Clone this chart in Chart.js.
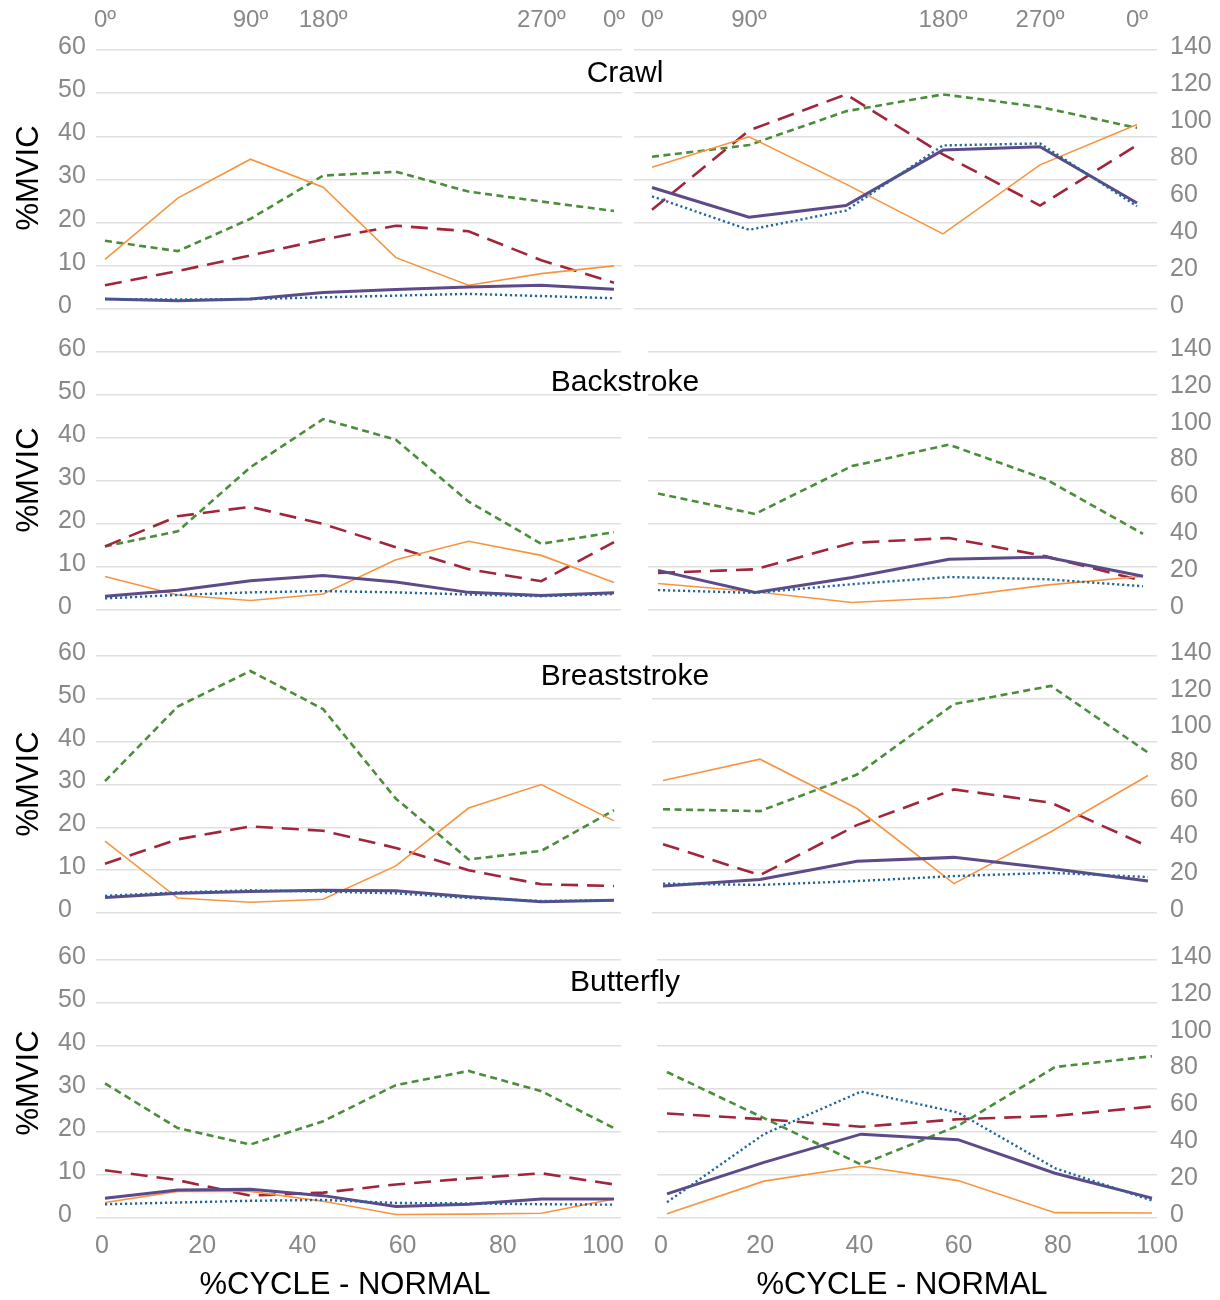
<!DOCTYPE html>
<html>
<head>
<meta charset="utf-8">
<script src="https://cdn.jsdelivr.net/npm/chart.js@4.4.1/dist/chart.umd.min.js"></script>
<style>
html,body{margin:0;padding:0;background:#fff;}
body{width:1220px;height:1300px;position:relative;overflow:hidden;font-family:'Liberation Sans',Arial,sans-serif;}
canvas{position:absolute;}
.t{position:absolute;color:#000;white-space:nowrap;line-height:1;transform:translate(-50%,-50%);}
.title{font-size:30px;}
.ylab{font-size:31px;transform:translate(-50%,-50%) rotate(-90deg);}
.xlab{font-size:31px;}
</style>
</head>
<body>
<script>
// ---------------- DATA ----------------
const strokes = ['Crawl', 'Backstroke', 'Breaststroke', 'Butterfly'];
const degLeft = ['0º', '', '90º', '180º', '', '', '270º', '0º'];
const degRight = ['0º', '90º', '', '180º', '270º', '0º'];
const yAxisTitle = '%MVIC';
const xAxisTitle = '%CYCLE - NORMAL';

// Crawl
const crawlLeftGreen  = [15.8, 13.4, 20.9, 30.9, 31.8, 27.2, 24.9, 22.7];
const crawlLeftRed    = [5.5, 8.8, 12.4, 16.1, 19.3, 18.0, 11.3, 6.1];
const crawlLeftOrange = [11.5, 25.7, 34.7, 28.2, 11.9, 5.5, 8.2, 10.0];
const crawlLeftPurple = [2.3, 1.9, 2.3, 3.8, 4.5, 5.1, 5.5, 4.6];
const crawlLeftBlue   = [2.3, 2.2, 2.3, 2.7, 3.1, 3.5, 3.0, 2.5];
const crawlRightGreen  = [82.3, 88.6, 106.9, 116.0, 109.2, 97.9];
const crawlRightRed    = [53.7, 96.5, 116.0, 83.6, 55.9, 88.6];
const crawlRightOrange = [76.6, 93.1, 67.5, 40.6, 77.9, 99.7];
const crawlRightPurple = [65.7, 49.6, 55.9, 85.9, 87.7, 57.3];
const crawlRightBlue   = [60.9, 42.8, 53.2, 88.4, 89.5, 55.5];

// Backstroke
const backLeftGreen  = [14.8, 18.3, 33.2, 44.4, 39.6, 25.2, 15.4, 18.1];
const backLeftRed    = [14.8, 21.8, 24.0, 20.0, 14.6, 9.5, 6.7, 15.8];
const backLeftOrange = [7.8, 3.5, 2.2, 3.7, 11.7, 16.0, 12.7, 6.4];
const backLeftPurple = [3.2, 4.6, 6.8, 8.0, 6.5, 4.1, 3.4, 4.0];
const backLeftBlue   = [2.7, 3.5, 4.1, 4.4, 4.1, 3.6, 3.2, 3.7];
const backRightGreen  = [63.2, 52.1, 78.1, 89.7, 70.9, 41.3];
const backRightRed    = [20.1, 22.1, 36.4, 39.1, 29.1, 15.8];
const backRightOrange = [14.4, 9.9, 4.1, 6.8, 13.5, 18.3];
const backRightPurple = [21.5, 9.5, 17.6, 27.5, 28.7, 18.3];
const backRightBlue   = [10.8, 9.3, 14.0, 17.9, 16.7, 12.9];

// Breaststroke
const breastLeftGreen  = [30.8, 48.2, 56.5, 47.6, 26.7, 12.5, 14.5, 24.0];
const breastLeftRed    = [11.5, 17.2, 20.2, 19.2, 15.2, 10.0, 6.7, 6.3];
const breastLeftOrange = [16.8, 3.5, 2.5, 3.2, 11.0, 24.5, 30.0, 21.5];
const breastLeftPurple = [3.6, 4.6, 5.0, 5.3, 5.2, 3.8, 2.6, 3.0];
const breastLeftBlue   = [4.0, 4.8, 5.3, 5.0, 4.6, 3.5, 2.8, 3.0];
const breastRightGreen  = [56.5, 55.5, 75.4, 113.8, 123.7, 87.4];
const breastRightRed    = [37.5, 20.6, 47.9, 67.3, 60.1, 36.3];
const breastRightOrange = [72.2, 83.8, 56.9, 16.0, 44.3, 74.9];
const breastRightPurple = [14.7, 18.3, 28.2, 30.3, 24.2, 17.4];
const breastRightBlue   = [16.0, 15.3, 17.4, 20.1, 21.9, 19.6];

// Butterfly
const butterLeftGreen  = [31.3, 20.9, 17.1, 22.5, 30.9, 34.2, 29.5, 20.9];
const butterLeftRed    = [11.1, 8.8, 5.2, 5.9, 7.8, 9.2, 10.4, 7.8];
const butterLeftOrange = [3.6, 6.2, 6.2, 3.9, 0.8, 0.9, 1.1, 4.4];
const butterLeftPurple = [4.6, 6.5, 6.7, 5.2, 2.7, 3.2, 4.4, 4.4];
const butterLeftBlue   = [3.2, 3.6, 4.0, 4.2, 3.5, 3.4, 3.2, 3.1];
const butterRightGreen  = [79.2, 54.2, 29.0, 50.0, 81.9, 87.8];
const butterRightRed    = [56.7, 53.6, 49.5, 53.6, 55.4, 60.5];
const butterRightOrange = [2.3, 20.0, 28.1, 20.3, 2.9, 2.7];
const butterRightPurple = [13.1, 30.2, 45.5, 42.5, 24.3, 10.8];
const butterRightBlue   = [8.6, 45.5, 68.6, 57.2, 27.0, 9.5];

const leftYTicks = {min: 0, max: 60, step: 10};
const rightYTicks = {min: 0, max: 140, step: 20};
const cycleTicks = {min: 0, max: 100, step: 20};

// ---------------- STYLE / LAYOUT ----------------
const FONT = "'Liberation Sans', Arial, sans-serif";
const TICK_COLOR = '#888888';
const GRID_COLOR = '#e0e0e0';
Chart.defaults.font.family = FONT;

const styles = {
  blue:   {color: '#23679a', width: 2.4, dash: [2.2, 2.8]},
  purple: {color: '#5d4a89', width: 3.0, dash: []},
  orange: {color: '#f7953f', width: 1.6, dash: []},
  red:    {color: '#a1263c', width: 2.6, dash: [17, 9]},
  green:  {color: '#4b8d3b', width: 2.6, dash: [7, 4.5]}
};
const drawOrder = ['blue', 'purple', 'orange', 'red', 'green']; // first = on top

const ROW_TOP = [50, 352, 656, 960];
const ROW_BOT = [309, 610, 913, 1218];
const L_LABEL_LEFT = 58;
const L_CHART_LEFT = 96;
const L_CHART_RIGHT = [622, 621, 621, 621];
const R_CHART_LEFT = [634, 648, 652, 657];
const R_CHART_RIGHT = 1157;
const L_DATA_PX = [[105, 614], [105, 614], [105, 614], [105, 614]];
const R_DATA_PX = [[652, 1137], [658, 1143], [663, 1148], [667, 1152]];
const L_CYCLE_PX = [102, 603];
const R_CYCLE_PX = [661, 1157];

const panels = [
  {row: 0, side: 'L', s: {green: crawlLeftGreen, red: crawlLeftRed, orange: crawlLeftOrange, purple: crawlLeftPurple, blue: crawlLeftBlue}},
  {row: 0, side: 'R', s: {green: crawlRightGreen, red: crawlRightRed, orange: crawlRightOrange, purple: crawlRightPurple, blue: crawlRightBlue}},
  {row: 1, side: 'L', s: {green: backLeftGreen, red: backLeftRed, orange: backLeftOrange, purple: backLeftPurple, blue: backLeftBlue}},
  {row: 1, side: 'R', s: {green: backRightGreen, red: backRightRed, orange: backRightOrange, purple: backRightPurple, blue: backRightBlue}},
  {row: 2, side: 'L', s: {green: breastLeftGreen, red: breastLeftRed, orange: breastLeftOrange, purple: breastLeftPurple, blue: breastLeftBlue}},
  {row: 2, side: 'R', s: {green: breastRightGreen, red: breastRightRed, orange: breastRightOrange, purple: breastRightPurple, blue: breastRightBlue}},
  {row: 3, side: 'L', s: {green: butterLeftGreen, red: butterLeftRed, orange: butterLeftOrange, purple: butterLeftPurple, blue: butterLeftBlue}},
  {row: 3, side: 'R', s: {green: butterRightGreen, red: butterRightRed, orange: butterRightOrange, purple: butterRightPurple, blue: butterRightBlue}}
];

function rangeFor(l, r, v0, p0, v1, p1) {
  const k = (p1 - p0) / (v1 - v0);
  return {min: v0 - (p0 - l) / k, max: v1 + (r - p1) / k};
}
function zeroPad(s) { s.paddingLeft = 0; s.paddingRight = 0; s.paddingTop = 0; s.paddingBottom = 0; }
const fixH = h => s => { s.height = h; zeroPad(s); };
const fixW = w => s => { s.width = w; zeroPad(s); };

function makePanel(p) {
  const isL = p.side === 'L';
  const row = p.row;
  const canvasLeft = isL ? 0 : 610;
  const canvasW = isL ? 640 : 610;
  const canvasTop = ROW_TOP[row] - 50;
  const canvasH = ROW_BOT[row] - ROW_TOP[row] + 100;
  const cl = isL ? L_CHART_LEFT : R_CHART_LEFT[row];
  const cr = isL ? L_CHART_RIGHT[row] : R_CHART_RIGHT;
  const dpx = isL ? L_DATA_PX[row] : R_DATA_PX[row];
  const cpx = isL ? L_CYCLE_PX : R_CYCLE_PX;
  const n = p.s.green.length;
  const xr = rangeFor(cl, cr, 0, dpx[0], n - 1, dpx[1]);
  const br = rangeFor(cl, cr, cycleTicks.min, cpx[0], cycleTicks.max, cpx[1]);
  const deg = isL ? degLeft : degRight;

  const cv = document.createElement('canvas');
  cv.width = canvasW; cv.height = canvasH;
  cv.style.left = canvasLeft + 'px'; cv.style.top = canvasTop + 'px';
  cv.style.width = canvasW + 'px'; cv.style.height = canvasH + 'px';
  document.body.appendChild(cv);

  const yId = isL ? 'y' : 'yr';
  const datasets = drawOrder.map(k => ({
    data: p.s[k].map((v, i) => ({x: i, y: v})),
    borderColor: styles[k].color,
    borderWidth: styles[k].width,
    borderDash: styles[k].dash,
    borderCapStyle: 'butt',
    pointRadius: 0,
    fill: false,
    tension: 0,
    xAxisID: 'x',
    yAxisID: yId
  }));

  const tickFont = {size: 25, family: FONT};
  const scales = {
    x: {
      type: 'linear', position: 'top', min: xr.min, max: xr.max,
      grid: {display: false, drawTicks: false}, border: {display: false},
      ticks: {display: row === 0, stepSize: 1, autoSkip: false, includeBounds: false, maxRotation: 0,
              padding: 15, color: TICK_COLOR, font: {size: 24, family: FONT},
              callback: v => (deg[v] !== undefined ? deg[v] : '')},
      afterFit: fixH(50)
    },
    xb: {
      type: 'linear', position: 'bottom', min: br.min, max: br.max,
      grid: {display: false, drawTicks: false}, border: {display: false},
      ticks: {display: row === 3, stepSize: cycleTicks.step, autoSkip: false, includeBounds: false, maxRotation: 0,
              padding: 13, color: TICK_COLOR, font: tickFont},
      afterFit: fixH(50)
    }
  };
  let padLeft = 0;
  if (isL) {
    padLeft = L_LABEL_LEFT - canvasLeft;
    scales.y = {
      type: 'linear', position: 'left', min: leftYTicks.min, max: leftYTicks.max,
      grid: {color: GRID_COLOR, lineWidth: 1.5, drawTicks: false}, border: {display: false},
      ticks: {stepSize: leftYTicks.step, padding: 10, crossAlign: 'far', labelOffset: -3, color: TICK_COLOR, font: tickFont},
      afterFit: fixW(cl - L_LABEL_LEFT)
    };
  } else {
    scales.yg = {
      type: 'linear', position: 'left', min: leftYTicks.min, max: leftYTicks.max,
      grid: {color: GRID_COLOR, lineWidth: 1.5, drawTicks: false}, border: {display: false},
      ticks: {display: false, stepSize: leftYTicks.step},
      afterFit: fixW(cl - canvasLeft)
    };
    scales.yr = {
      type: 'linear', position: 'right', min: rightYTicks.min, max: rightYTicks.max,
      grid: {display: false, drawTicks: false}, border: {display: false},
      ticks: {stepSize: rightYTicks.step, padding: 13, crossAlign: 'near', labelOffset: -3, color: TICK_COLOR, font: tickFont},
      afterFit: fixW(canvasLeft + canvasW - cr)
    };
  }

  new Chart(cv, {
    type: 'line',
    data: {datasets},
    options: {
      responsive: false,
      maintainAspectRatio: false,
      devicePixelRatio: 1,
      animation: false,
      events: [],
      layout: {padding: {left: padLeft, top: 0, bottom: 0, right: isL ? canvasLeft + canvasW - cr : 0}},
      plugins: {legend: {display: false}, tooltip: {enabled: false}, title: {display: false}},
      scales
    }
  });
}
panels.forEach(makePanel);

// ---------------- TEXT ----------------
const titleY = [72, 381, 675, 981];
const mvicY = [178, 480, 784, 1083];
function addText(cls, txt, x, y) {
  const d = document.createElement('div');
  d.className = 't ' + cls;
  d.textContent = txt;
  d.style.left = x + 'px'; d.style.top = y + 'px';
  document.body.appendChild(d);
}
strokes.forEach((s, i) => addText('title', s, 625, titleY[i]));
mvicY.forEach(y => addText('ylab', yAxisTitle, 27, y));
addText('xlab', xAxisTitle, 345, 1283);
addText('xlab', xAxisTitle, 902, 1283);
</script>
</body>
</html>
